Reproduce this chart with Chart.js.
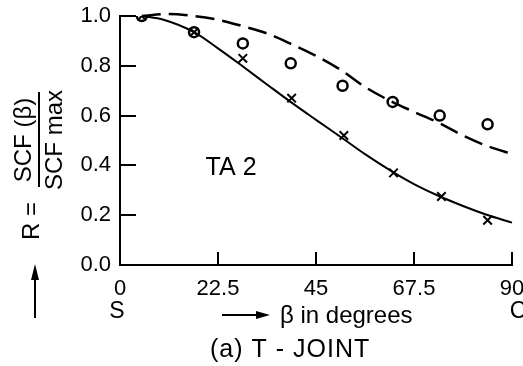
<!DOCTYPE html>
<html>
<head>
<meta charset="utf-8">
<script src="https://cdn.jsdelivr.net/npm/chart.js@4.4.0/dist/chart.umd.min.js"></script>
<style>
  html, body { margin: 0; padding: 0; background: #fff; }
  #wrap { width: 523px; height: 366px; }
</style>
</head>
<body>
<div id="wrap"><canvas id="myChart" width="523" height="366"></canvas></div>
<script>
// tick values on both axes
var xTicks = [0, 22.5, 45, 67.5, 90];
var yTicks = [0, 0.2, 0.4, 0.6, 0.8, 1.0];

// solid curve (fit through crosses)
var solidDeg = [5, 10, 17, 22.5, 28, 33.75, 39, 45, 51, 56.25, 62.5, 67.5, 73.5, 78.75, 84, 90];
var solidR   = [1.0, 0.985, 0.935, 0.87, 0.80, 0.725, 0.657, 0.583, 0.51, 0.445, 0.375, 0.325, 0.275, 0.237, 0.203, 0.17];

// dashed curve (fit through circles)
var dashDeg = [5, 11, 17, 22.5, 28, 33.75, 39, 45, 51, 56.25, 62.5, 67.5, 73.5, 78.75, 84, 90, 92];
var dashR   = [1.0, 1.008, 1.0, 0.985, 0.96, 0.93, 0.89, 0.84, 0.78, 0.715, 0.655, 0.615, 0.568, 0.52, 0.48, 0.446, 0.435];

// measured points
var circDeg = [5, 17, 28.2, 39.2, 51.1, 62.6, 73.4, 84.4];
var circR   = [1.0, 0.935, 0.89, 0.81, 0.72, 0.655, 0.60, 0.565];
var crossDeg = [5, 17, 28.2, 39.4, 51.4, 62.8, 73.8, 84.4];
var crossR   = [1.0, 0.935, 0.83, 0.67, 0.52, 0.37, 0.275, 0.18];

function pts(xs, ys) {
    return xs.map(function (x, i) { return { x: x, y: ys[i] }; });
}

var FONT = '"Liberation Sans", Arial, sans-serif';

// extra drawing: inside ticks, axis titles and captions
var extras = {
    id: 'extras',
    afterDraw: function (chart) {
        var ctx = chart.ctx;
        var xs = chart.scales.x, ys = chart.scales.y;
        var left = xs.getPixelForValue(0);
        var bottom = ys.getPixelForValue(0);
        ctx.save();
        ctx.setLineDash([]);
        ctx.fillStyle = '#000';

        // short ticks pointing into the plot
        yTicks.forEach(function (v) {
            if (v === 0) return;
            var py = Math.round(ys.getPixelForValue(v));
            ctx.fillRect(left, py - 1, 16, 2);
        });
        xTicks.forEach(function (v) {
            if (v === 0) return;
            var px = Math.round(xs.getPixelForValue(v));
            ctx.fillRect(px - 1, bottom - 13, 2, 13);
        });

        ctx.textAlign = 'center';
        ctx.textBaseline = 'middle';

        // TA 2 label
        ctx.font = '25px ' + FONT;
        ctx.fillText('TA 2', xs.getPixelForValue(25.5), ys.getPixelForValue(0.39));

        // S and C under the x axis ends
        ctx.font = '23px ' + FONT;
        ctx.fillText('S', xs.getPixelForValue(0) - 3, 312);
        ctx.fillText('C', xs.getPixelForValue(90) + 6, 312);

        // arrow + beta label
        ctx.fillRect(222, 314, 36, 2);
        ctx.beginPath();
        ctx.moveTo(270, 315);
        ctx.lineTo(256, 311);
        ctx.lineTo(256, 319);
        ctx.closePath();
        ctx.fill();
        ctx.textAlign = 'left';
        ctx.font = '24px ' + FONT;
        ctx.fillText('\u03b2 in degrees', 280, 316);

        // caption
        ctx.font = '25px ' + FONT;
        ctx.letterSpacing = '1px';
        ctx.fillText('(a) T - JOINT', 210, 350);
        ctx.letterSpacing = '0px';

        // y axis title, rotated
        ctx.textAlign = 'center';
        ctx.font = '24px ' + FONT;
        function vtext(t, x, y) {
            ctx.save();
            ctx.translate(x, y);
            ctx.rotate(-Math.PI / 2);
            ctx.fillText(t, 0, 0);
            ctx.restore();
        }
        vtext('SCF (\u03b2)', 24, 140);
        vtext('SCF max', 55, 140);
        vtext('R =', 32, 221);
        ctx.fillRect(38, 92, 2, 95);

        // up arrow
        ctx.fillRect(34, 276, 2, 42);
        ctx.beginPath();
        ctx.moveTo(35, 264);
        ctx.lineTo(31, 280);
        ctx.lineTo(39, 280);
        ctx.closePath();
        ctx.fill();

        ctx.restore();
    }
};

var ctx = document.getElementById('myChart');
var myChart = new Chart(ctx, {
    type: 'scatter',
    data: {
        datasets: [{
            data: pts(crossDeg, crossR),
            pointStyle: 'crossRot',
            pointRadius: 6,
            borderColor: '#000',
            borderWidth: 2,
            order: 0
        }, {
            data: pts(circDeg, circR),
            pointStyle: 'circle',
            pointRadius: 5,
            borderColor: '#000',
            backgroundColor: 'rgba(0,0,0,0)',
            borderWidth: 2.5,
            order: 1
        }, {
            data: pts(solidDeg, solidR),
            showLine: true,
            pointRadius: 0,
            borderColor: '#000',
            borderWidth: 2,
            cubicInterpolationMode: 'monotone',
            clip: false,
            order: 2
        }, {
            data: pts(dashDeg, dashR),
            showLine: true,
            pointRadius: 0,
            borderColor: '#000',
            borderWidth: 2.5,
            borderDash: [19, 8],
            cubicInterpolationMode: 'monotone',
            clip: false,
            order: 3
        }]
    },
    options: {
        responsive: false,
        animation: false,
        layout: { padding: { top: 16, right: 11, left: 0, bottom: 0 } },
        plugins: {
            legend: { display: false },
            tooltip: { enabled: false }
        },
        scales: {
            x: {
                type: 'linear',
                min: 0,
                max: 90,
                grid: { display: false, drawTicks: false },
                border: { display: true, color: '#000', width: 2 },
                afterBuildTicks: function (s) {
                    s.ticks = xTicks.map(function (v) { return { value: v }; });
                },
                afterFit: function (s) {
                    s.height = 101;
                    s.paddingRight = 0;
                    s.paddingLeft = 0;
                },
                ticks: {
                    color: '#000',
                    padding: 11,
                    maxRotation: 0,
                    font: { family: FONT, size: 22 },
                    callback: function (v) { return String(v); }
                }
            },
            y: {
                min: 0,
                max: 1,
                grid: { display: false, drawTicks: false },
                border: { display: true, color: '#000', width: 2 },
                afterBuildTicks: function (s) {
                    s.ticks = yTicks.map(function (v) { return { value: v }; });
                },
                afterFit: function (s) {
                    s.width = 120;
                    s.paddingTop = 0;
                    s.paddingBottom = 0;
                },
                ticks: {
                    color: '#000',
                    padding: 9,
                    font: { family: FONT, size: 22 },
                    callback: function (v) { return v.toFixed(1); }
                }
            }
        }
    },
    plugins: [extras]
});
</script>
</body>
</html>
